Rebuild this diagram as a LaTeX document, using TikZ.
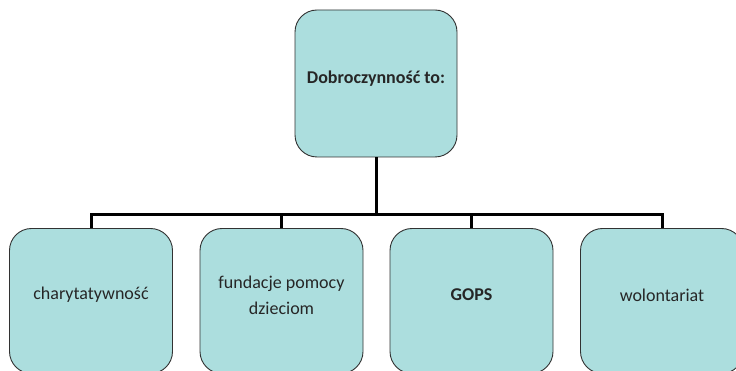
\documentclass[tikz,border=0pt]{standalone}
\usepackage{fontspec}
\setmainfont{Carlito}
\usetikzlibrary{positioning, calc}

\definecolor{boxfill}{RGB}{172,222,222}
\definecolor{boxline}{RGB}{50,50,50}
\definecolor{boxtext}{RGB}{38,38,38}

\tikzset{
    box/.style={draw=boxline, line width=0.9pt, fill=boxfill, rounded corners=22pt,
        minimum width=163pt, minimum height=145pt, inner sep=0pt},
    boxlabel/.style={text=boxtext, align=center, font=\fontsize{18}{26}\selectfont},
    conn/.style={line width=3pt, black, line join=miter}
}

\begin{document}
\begin{tikzpicture}
    \clip (0,0) rectangle (736pt,-371pt);
    \fill[white] (0,0) rectangle (736pt,-371pt);

    \node[box, minimum width=162pt, minimum height=147pt] (dob) at (376pt,-83.5pt) {};
    \node[boxlabel, font=\fontsize{18}{26}\selectfont\bfseries] (tdob) at ([yshift=5pt]dob.center) {Dobroczynność to:};

    \node[box] (char) at (91pt,-301pt) {};
    \node[box] (fund) at (281.5pt,-301pt) {};
    \node[box] (gops) at (471.5pt,-301pt) {};
    \node[box] (wol)  at (662pt,-301pt) {};

    \node[boxlabel] (tchar) at ([yshift=6pt]char.center) {charytatywność};
    \node[boxlabel] (tfund) at ([yshift=6pt]fund.center) {fundacje pomocy\\dzieciom};
    \node[boxlabel, font=\fontsize{18}{26}\selectfont\bfseries] (tgops) at ([yshift=6pt]gops.center) {GOPS};
    \node[boxlabel] (twol) at ([yshift=6pt]wol.center) {wolontariat};

    \coordinate (bar) at (376pt,-215pt);
    \draw[conn] (dob.south) -- (bar);
    \draw[conn] (char.north) |- (bar) -| (wol.north);
    \draw[conn] (fund.north) -- (fund.north |- bar);
    \draw[conn] (gops.north) -- (gops.north |- bar);
\end{tikzpicture}
\end{document}
